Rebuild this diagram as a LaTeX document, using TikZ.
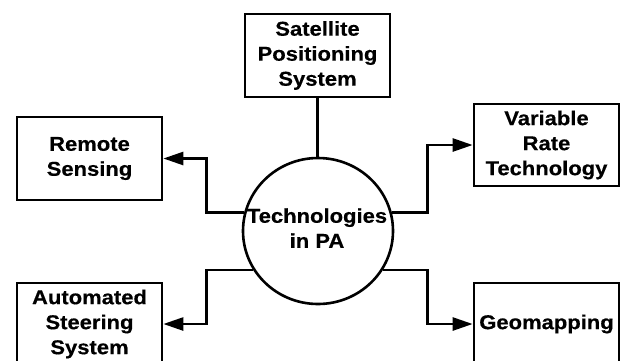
\documentclass[tikz,border=0pt]{standalone}
\usepackage{fontspec}
\setmainfont{Liberation Sans}[BoldFeatures={FakeStretch=1.1,FakeBold=0.4}]
\usetikzlibrary{arrows.meta,shapes.geometric}
\tikzset{
  label/.style={inner sep=0pt, align=center, font=\fontsize{20}{25}\selectfont\bfseries},
  box/.style={label, draw, line width=2.7pt, minimum width=145pt, minimum height=83pt},
  hub/.style={draw, ellipse, line width=2.6pt, minimum width=150pt, minimum height=146pt,
    inner sep=0pt},
  link/.style={line width=2.6pt},
  arr/.style={line width=2.6pt, -{Triangle[length=20pt,width=13pt]}}
}
\begin{document}
\begin{tikzpicture}[x=1pt,y=-1pt]
\useasboundingbox (0,0) rectangle (623,360);
\clip (0,0) rectangle (623,360);
\node[hub] (c) at (318,231) {};
\node[label] (ct) at (317,228) {Technologies\\in PA};
\node[box] (sat) at (317.5,55.5) {Satellite\\Positioning\\System};
\node[box] (rs) at (89.5,158.5) {Remote\\Sensing};
\node[box, minimum height=82pt] (vr) at (546.5,145) {Variable\\Rate\\Technology};
\node[box, minimum height=82pt] (as) at (89.5,324) {Automated\\Steering\\System};
\node[box, minimum height=82pt] (geo) at (546.5,324) {Geomapping};
\draw[link] (sat.south) -- (sat.south |- c.north);
\draw[arr] (c.166) -| ([xshift=43pt]rs.east) -- (rs.east);
\draw[arr] (c.14) -| ([xshift=-45pt]vr.west) -- (vr.west);
\draw[arr] (c.211) -| ([xshift=43pt]as.east) -- (as.east);
\draw[arr] (c.-31) -| ([xshift=-45pt]geo.west) -- (geo.west);
\end{tikzpicture}
\end{document}
